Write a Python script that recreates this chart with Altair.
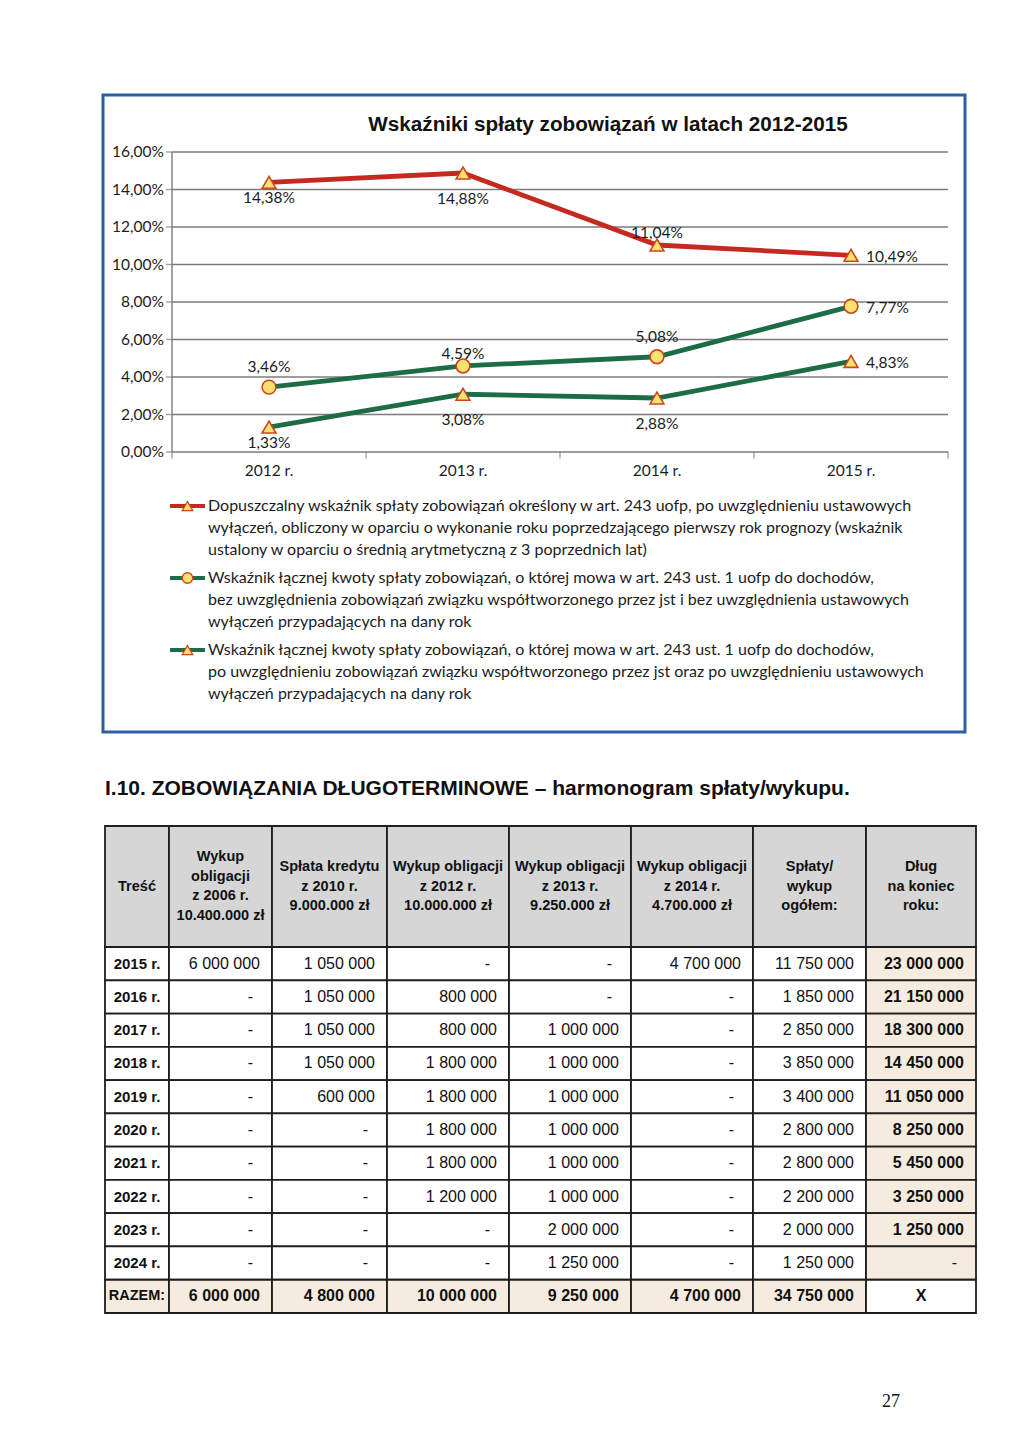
import altair as alt
import pandas as pd

# ------------------------------------------------------------------ data
YEARS = [2012, 2013, 2014, 2015]
YEAR_LABELS = ["2012 r.", "2013 r.", "2014 r.", "2015 r."]
DOPUSZCZALNY = [14.38, 14.88, 11.04, 10.49]
BEZ_WYLACZEN = [3.46, 4.59, 5.08, 7.77]
PO_UWZGL = [1.33, 3.08, 2.88, 4.83]
Y_TICKS = [0, 2, 4, 6, 8, 10, 12, 14, 16]

SERIES_IDS = ["dop", "bez", "po"]
SERIES_VALUES = [DOPUSZCZALNY, BEZ_WYLACZEN, PO_UWZGL]
SERIES_SHAPES = ["triangle-up", "circle", "triangle-up"]
SERIES_COLORS = ["#c42a1f", "#1c6c45", "#1c6c45"]
SERIES_LABEL_POS = [["b1", "b2", "a1", "r"], ["a2", "a1", "a2", "r"], ["b1", "b2", "b2", "r"]]
LEGEND_TEXTS = [
    "Dopuszczalny wskaźnik spłaty zobowiązań określony w art. 243 uofp, po uwzględnieniu ustawowych\n"
    "wyłączeń, obliczony w oparciu o wykonanie roku poprzedzającego pierwszy rok prognozy (wskaźnik\n"
    "ustalony w oparciu o średnią arytmetyczną z 3 poprzednich lat)",
    "Wskaźnik łącznej kwoty spłaty zobowiązań, o której mowa w art. 243 ust. 1 uofp do dochodów,\n"
    "bez uwzględnienia zobowiązań związku współtworzonego przez jst i bez uwzględnienia ustawowych\n"
    "wyłączeń przypadających na dany rok",
    "Wskaźnik łącznej kwoty spłaty zobowiązań, o której mowa w art. 243 ust. 1 uofp do dochodów,\n"
    "po uwzględnieniu zobowiązań związku współtworzonego przez jst oraz po uwzględnieniu ustawowych\n"
    "wyłączeń przypadających na dany rok",
]
CHART_TITLE = "Wskaźniki spłaty zobowiązań w latach 2012-2015"
HEADING = "I.10. ZOBOWIĄZANIA DŁUGOTERMINOWE – harmonogram spłaty/wykupu."
PAGE_NO = "27"

TABLE_HEADERS = [
    ["Treść"],
    ["Wykup", "obligacji", "z 2006 r.", "10.400.000 zł"],
    ["Spłata kredytu", "z 2010 r.", "9.000.000 zł"],
    ["Wykup obligacji", "z 2012 r.", "10.000.000 zł"],
    ["Wykup obligacji", "z 2013 r.", "9.250.000 zł"],
    ["Wykup obligacji", "z 2014 r.", "4.700.000 zł"],
    ["Spłaty/", "wykup", "ogółem:"],
    ["Dług", "na koniec", "roku:"],
]
ROW_YEARS = ["2015 r.", "2016 r.", "2017 r.", "2018 r.", "2019 r.",
             "2020 r.", "2021 r.", "2022 r.", "2023 r.", "2024 r."]
WYKUP_2006 = [6000000, None, None, None, None, None, None, None, None, None]
SPLATA_2010 = [1050000, 1050000, 1050000, 1050000, 600000, None, None, None, None, None]
WYKUP_2012 = [None, 800000, 800000, 1800000, 1800000, 1800000, 1800000, 1200000, None, None]
WYKUP_2013 = [None, None, 1000000, 1000000, 1000000, 1000000, 1000000, 1000000, 2000000, 1250000]
WYKUP_2014 = [4700000, None, None, None, None, None, None, None, None, None]
OGOLEM = [11750000, 1850000, 2850000, 3850000, 3400000, 2800000, 2800000, 2200000, 2000000, 1250000]
DLUG = [23000000, 21150000, 18300000, 14450000, 11050000, 8250000, 5450000, 3250000, 1250000, None]
RAZEM_LABEL = "RAZEM:"
RAZEM = [6000000, 4800000, 10000000, 9250000, 4700000, 34750000, "X"]

# ------------------------------------------------------------------ layout / style
M = 8  # page margin


def P(v):
    return v - M


W, H = 1008, 1434
LATO = "Lato"
ARIAL = "Liberation Sans"
SERIF = "Liberation Serif"
GRID = "#7c7c7c"
TXT = "#1c1c1c"

xs = alt.Scale(domain=[YEARS[0] - 0.5, YEARS[-1] + 0.5], range=[P(172), P(948)], nice=False, zero=False)
ys = alt.Scale(domain=[Y_TICKS[0], Y_TICKS[-1]], range=[P(452), P(152)], nice=False, zero=False)


def X(f):
    return alt.X(f, scale=xs, axis=None)


def Y(f):
    return alt.Y(f, scale=ys, axis=None)


def pct(v):
    return f"{v:.2f}".replace(".", ",") + "%"


layers = []

# blue frame around the chart
one = pd.DataFrame({"a": [0]})
layers.append(alt.Chart(one).mark_rect(fill="white", stroke="#2c5fa8", strokeWidth=3).encode(
    x=alt.value(P(103)), x2=alt.value(P(965)), y=alt.value(P(95)), y2=alt.value(P(732))))

# gridlines
grid_df = pd.DataFrame({"t": Y_TICKS, "x0": YEARS[0] - 0.5, "x1": YEARS[-1] + 0.5,
                        "lab": [pct(t) for t in Y_TICKS]})
layers.append(alt.Chart(grid_df).mark_rule(color=GRID, strokeWidth=1.4).encode(
    x=X("x0:Q"), x2="x1:Q", y=Y("t:Q")))
layers.append(alt.Chart(grid_df).mark_tick(orient="horizontal", size=6, thickness=1.4, color=GRID,
                                           xOffset=-3).encode(x=X("x0:Q"), y=Y("t:Q")))
layers.append(alt.Chart(grid_df).mark_text(align="right", baseline="middle", dx=-8, font=LATO,
                                           fontSize=15.5, color=TXT).encode(
    x=X("x0:Q"), y=Y("t:Q"), text="lab:N"))
# y axis line
layers.append(alt.Chart(pd.DataFrame({"x0": [YEARS[0] - 0.5], "y0": [Y_TICKS[0]], "y1": [Y_TICKS[-1]]}))
              .mark_rule(color=GRID, strokeWidth=1.4).encode(x=X("x0:Q"), y=Y("y0:Q"), y2="y1:Q"))
# x ticks and labels
bounds = pd.DataFrame({"b": [y - 0.5 for y in YEARS] + [YEARS[-1] + 0.5], "y0": 0})
layers.append(alt.Chart(bounds).mark_tick(orient="vertical", size=7, thickness=1.4, color=GRID,
                                          yOffset=3).encode(x=X("b:Q"), y=Y("y0:Q")))
xl = pd.DataFrame({"year": YEARS, "lab": YEAR_LABELS, "y0": 0})
layers.append(alt.Chart(xl).mark_text(baseline="middle", dy=19, font=LATO, fontSize=15.5, color=TXT)
              .encode(x=X("year:Q"), y=Y("y0:Q"), text="lab:N"))

# series
rows = []
for sid, vals, shp, pos in zip(SERIES_IDS, SERIES_VALUES, SERIES_SHAPES, SERIES_LABEL_POS):
    for yr, v, p in zip(YEARS, vals, pos):
        rows.append({"series": sid, "year": yr, "value": v, "shape": shp, "pos": p, "lab": pct(v)})
sdf = pd.DataFrame(rows)
color_enc = alt.Color("series:N", scale=alt.Scale(domain=SERIES_IDS, range=SERIES_COLORS), legend=None)
shape_enc = alt.Shape("shape:N", scale=alt.Scale(domain=["triangle-up", "circle"],
                                                 range=["triangle-up", "circle"]), legend=None)
layers.append(alt.Chart(sdf).mark_line(strokeWidth=4.8).encode(
    x=X("year:Q"), y=Y("value:Q"), color=color_enc, detail="series:N"))
layers.append(alt.Chart(sdf).mark_point(filled=True, size=190, strokeWidth=1.6, opacity=1).encode(
    x=X("year:Q"), y=Y("value:Q"), shape=shape_enc,
    color=alt.value("#ffe070"), stroke=alt.value("#c9461c")))
OFFS = {"b1": (0, 16), "b2": (0, 26), "a1": (0, -12), "a2": (0, -20), "r": (15, 2)}
for key, (dx, dy) in OFFS.items():
    layers.append(alt.Chart(sdf).transform_filter(alt.datum.pos == key).mark_text(
        align="left" if key == "r" else "center", baseline="middle", dx=dx, dy=dy,
        font=LATO, fontSize=15.5, color=TXT).encode(x=X("year:Q"), y=Y("value:Q"), text="lab:N"))

# chart title
layers.append(alt.Chart(one).mark_text(text=CHART_TITLE, font=ARIAL, fontWeight="bold", fontSize=20.7,
                                       align="center", baseline="middle", color="#111").encode(
    x=alt.value(P(608)), y=alt.value(P(125))))

# legend
lxs = alt.Scale(domain=[0, 1], range=[P(170), P(205)], nice=False, zero=False)
lys = alt.Scale(domain=[0, len(SERIES_IDS) - 1], range=[P(506), P(650)], nice=False, zero=False)
ldf = pd.DataFrame({"i": list(range(len(SERIES_IDS))), "series": SERIES_IDS, "shape": SERIES_SHAPES,
                    "text": LEGEND_TEXTS, "x0": 0, "x1": 1, "xm": 0.5})
LX = lambda f: alt.X(f, scale=lxs, axis=None)
LY = lambda f: alt.Y(f, scale=lys, axis=None)
lcolor = alt.Color("series:N", scale=alt.Scale(domain=SERIES_IDS, range=SERIES_COLORS), legend=None)
layers.append(alt.Chart(ldf).mark_rule(strokeWidth=4).encode(x=LX("x0:Q"), x2="x1:Q", y=LY("i:Q"),
                                                             color=lcolor))
layers.append(alt.Chart(ldf).mark_point(filled=True, size=110, strokeWidth=1.3, opacity=1).encode(
    x=LX("xm:Q"), y=LY("i:Q"), shape=shape_enc, color=alt.value("#ffe070"), stroke=alt.value("#c9461c")))
layers.append(alt.Chart(ldf).mark_text(align="left", baseline="top", dx=3, dy=-8.5, lineBreak="\n",
                                       lineHeight=22, font=LATO, fontSize=16, color=TXT).encode(
    x=LX("x1:Q"), y=LY("i:Q"), text="text:N"))

# heading
layers.append(alt.Chart(one).mark_text(text=HEADING, font=ARIAL, fontWeight="bold", fontSize=21,
                                       align="left", baseline="middle", color="#111").encode(
    x=alt.value(P(105)), y=alt.value(P(789))))

# ------------------------------------------------------------------ table
COL_WIDTHS = [64, 103, 115, 122, 122, 122, 113, 110]
HEADER_H = 121
ROW_H = 33.27
HDR_LH = 19.5
edges = [0]
for w_ in COL_WIDTHS:
    edges.append(edges[-1] + w_)
n_rows = len(ROW_YEARS) + 1
table_h = HEADER_H + n_rows * ROW_H
txs = alt.Scale(domain=[0, edges[-1]], range=[P(105), P(976)], nice=False, zero=False)
tys = alt.Scale(domain=[0, table_h], range=[P(826), P(1313)], nice=False, zero=False)
TX = lambda f: alt.X(f, scale=txs, axis=None)
TY = lambda f: alt.Y(f, scale=tys, axis=None)

GRAY = "#d6d6d6"
BEIGE = "#f5ecdf"


def fmt(v):
    if v is None:
        return "-"
    if isinstance(v, str):
        return v
    return f"{v:,}".replace(",", " ")


cells = []
texts = []
# header
for c, lines in enumerate(TABLE_HEADERS):
    cells.append({"x0": edges[c], "x1": edges[c + 1], "y0": 0, "y1": HEADER_H, "fill": GRAY})
    n = len(lines)
    for k, ln in enumerate(lines):
        texts.append({"x": (edges[c] + edges[c + 1]) / 2, "xr": edges[c + 1],
                      "y": HEADER_H / 2 + (k - (n - 1) / 2) * HDR_LH, "text": ln, "style": "hdr"})
cols = [WYKUP_2006, SPLATA_2010, WYKUP_2012, WYKUP_2013, WYKUP_2014, OGOLEM, DLUG]
for r, yr in enumerate(ROW_YEARS):
    y0 = HEADER_H + r * ROW_H
    y1 = y0 + ROW_H
    cells.append({"x0": edges[0], "x1": edges[1], "y0": y0, "y1": y1, "fill": "white"})
    texts.append({"x": (edges[0] + edges[1]) / 2, "xr": edges[1], "y": (y0 + y1) / 2, "text": yr,
                  "style": "year"})
    for c, col in enumerate(cols, start=1):
        last = c == len(cols)
        cells.append({"x0": edges[c], "x1": edges[c + 1], "y0": y0, "y1": y1,
                      "fill": BEIGE if last else "white"})
        v = col[r]
        style = "dash" if v is None else ("numb" if last else "num")
        texts.append({"x": (edges[c] + edges[c + 1]) / 2, "xr": edges[c + 1], "y": (y0 + y1) / 2,
                      "text": fmt(v), "style": style})
# total row
y0 = HEADER_H + len(ROW_YEARS) * ROW_H
y1 = y0 + ROW_H
cells.append({"x0": edges[0], "x1": edges[1], "y0": y0, "y1": y1, "fill": BEIGE})
texts.append({"x": (edges[0] + edges[1]) / 2, "xr": edges[1], "y": (y0 + y1) / 2, "text": RAZEM_LABEL,
              "style": "razem"})
for c, v in enumerate(RAZEM, start=1):
    is_x = isinstance(v, str)
    cells.append({"x0": edges[c], "x1": edges[c + 1], "y0": y0, "y1": y1,
                  "fill": "white" if is_x else BEIGE})
    texts.append({"x": (edges[c] + edges[c + 1]) / 2, "xr": edges[c + 1], "y": (y0 + y1) / 2,
                  "text": fmt(v), "style": "xb" if is_x else "numb"})

cdf = pd.DataFrame(cells)
tdf = pd.DataFrame(texts)
layers.append(alt.Chart(cdf).mark_rect(stroke="#1e1e1e", strokeWidth=1.8).encode(
    x=TX("x0:Q"), x2="x1:Q", y=TY("y0:Q"), y2="y1:Q", fill=alt.Fill("fill:N", scale=None)))

STYLES = {
    "hdr": dict(align="center", dx=0, fontWeight="bold", fontSize=14.5, xf="x"),
    "year": dict(align="center", dx=0, fontWeight="bold", fontSize=15, xf="x"),
    "razem": dict(align="center", dx=0, fontWeight="bold", fontSize=14.5, xf="x"),
    "num": dict(align="right", dx=-12, fontWeight="normal", fontSize=16, xf="xr"),
    "numb": dict(align="right", dx=-12, fontWeight="bold", fontSize=16, xf="xr"),
    "dash": dict(align="right", dx=-19, fontWeight="normal", fontSize=16, xf="xr"),
    "xb": dict(align="center", dx=0, fontWeight="bold", fontSize=16, xf="x"),
}
for key, st in STYLES.items():
    layers.append(alt.Chart(tdf).transform_filter(alt.datum.style == key).mark_text(
        align=st["align"], dx=st["dx"], baseline="middle", font=ARIAL, fontWeight=st["fontWeight"],
        fontSize=st["fontSize"], color="#111").encode(
        x=TX(st["xf"] + ":Q"), y=TY("y:Q"), text="text:N"))

# page number
layers.append(alt.Chart(one).mark_text(text=PAGE_NO, font=SERIF, fontSize=18, align="center",
                                       baseline="middle", color="#111").encode(
    x=alt.value(P(891)), y=alt.value(P(1402))))

chart = alt.layer(*layers).resolve_scale(
    x="independent", y="independent", color="independent", shape="independent", fill="independent"
).properties(
    width=W, height=H, autosize=alt.AutoSizeParams(type="none"), padding=0, background="white"
).configure_view(strokeWidth=0)

chart.save("out.html", embed_options={"renderer": "svg", "actions": False})
